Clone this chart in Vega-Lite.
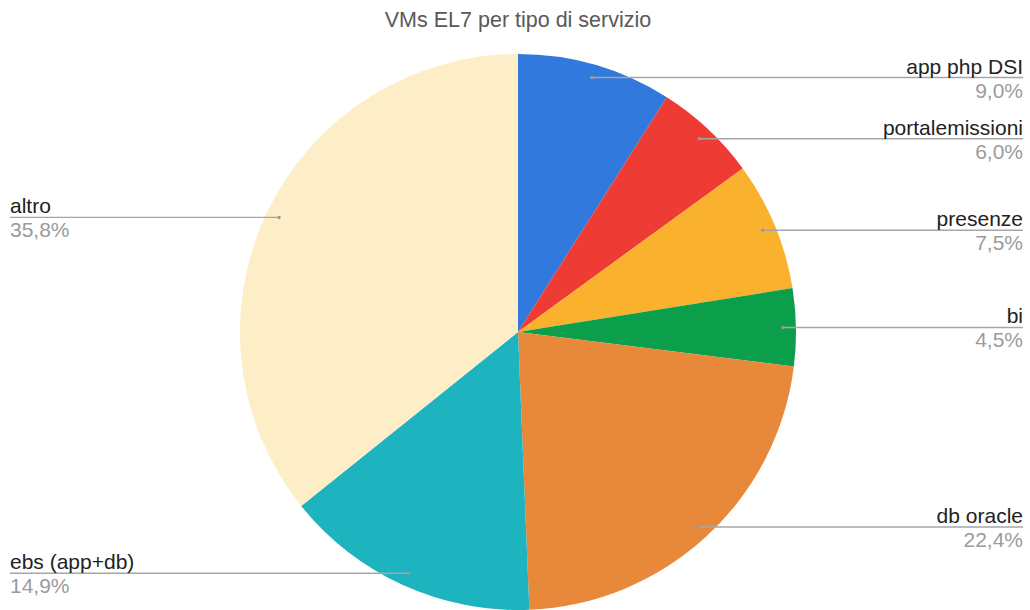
{
  "$schema": "https://vega.github.io/schema/vega-lite/v6.json",
  "autosize": "none",
  "padding": {"top": 44, "left": 0, "right": 0, "bottom": 0},
  "width": 1036,
  "height": 576,
  "title": {"text": "VMs EL7 per tipo di servizio", "font": "Liberation Sans", "fontSize": 21.5, "fontWeight": "normal", "color": "#595959", "offset": 13, "anchor": "middle", "frame": "group"},
  "data": {"values": [
    {"servizio": "app php DSI", "pct": 9.0},
    {"servizio": "portalemissioni", "pct": 6.0},
    {"servizio": "presenze", "pct": 7.5},
    {"servizio": "bi", "pct": 4.5},
    {"servizio": "db oracle", "pct": 22.4},
    {"servizio": "ebs (app+db)", "pct": 14.9},
    {"servizio": "altro", "pct": 35.8}
  ]},
  "transform": [
    {"window": [{"op": "row_number", "as": "idx"}]},
    {"window": [{"op": "sum", "field": "pct", "as": "cum"}], "sort": [{"field": "idx"}], "frame": [null, 0]},
    {"joinaggregate": [{"op": "sum", "field": "pct", "as": "tot"}]},
    {"calculate": "(datum.cum - datum.pct / 2) / datum.tot * 2 * PI", "as": "mid"},
    {"calculate": "265 * sin(datum.mid)", "as": "ax"},
    {"calculate": "-265 * cos(datum.mid)", "as": "ay"},
    {"calculate": "datum.ax > 0 ? 505 : -508", "as": "ex"},
    {"calculate": "datum.pct / 100", "as": "pfrac"}
  ],
  "layer": [
    {
      "mark": {"type": "arc", "outerRadius": 278},
      "encoding": {
        "theta": {"field": "pct", "type": "quantitative", "stack": true},
        "order": {"field": "idx", "type": "quantitative"},
        "color": {
          "field": "servizio", "type": "nominal", "legend": null,
          "scale": {
            "domain": ["app php DSI", "portalemissioni", "presenze", "bi", "db oracle", "ebs (app+db)", "altro"],
            "range": ["#3179DC", "#EE3B34", "#F9B12E", "#0B9E4B", "#E8883B", "#1EB4BF", "#FDEEC8"]
          }
        }
      }
    },
    {
      "mark": {"type": "rule", "color": "#A6A6A6", "strokeWidth": 1.4},
      "encoding": {
        "x": {"field": "ax", "type": "quantitative", "axis": null, "scale": {"domain": [-518, 518], "nice": false, "zero": false}},
        "x2": {"field": "ex"},
        "y": {"field": "ay", "type": "quantitative", "axis": null, "scale": {"domain": [-288, 288], "nice": false, "zero": false, "reverse": true}}
      }
    },
    {
      "mark": {"type": "circle", "color": "#9A9A9A", "size": 12, "opacity": 1},
      "encoding": {
        "x": {"field": "ax", "type": "quantitative"},
        "y": {"field": "ay", "type": "quantitative"}
      }
    },
    {
      "mark": {"type": "text", "font": "Liberation Sans", "fontSize": 21, "color": "#222222", "baseline": "alphabetic", "dy": -4, "align": {"expr": "datum.ex > 0 ? 'right' : 'left'"}},
      "encoding": {
        "x": {"field": "ex", "type": "quantitative"},
        "y": {"field": "ay", "type": "quantitative"},
        "text": {"field": "servizio"}
      }
    },
    {
      "mark": {"type": "text", "font": "Liberation Sans", "fontSize": 21, "color": "#9B9B9B", "baseline": "alphabetic", "dy": 20, "align": {"expr": "datum.ex > 0 ? 'right' : 'left'"}},
      "encoding": {
        "x": {"field": "ex", "type": "quantitative"},
        "y": {"field": "ay", "type": "quantitative"},
        "text": {"field": "pfrac", "type": "quantitative", "format": ".1%"}
      }
    }
  ],
  "config": {
    "view": {"stroke": null},
    "locale": {"number": {"decimal": ",", "thousands": ".", "grouping": [3], "currency": ["", " €"]}}
  }
}
